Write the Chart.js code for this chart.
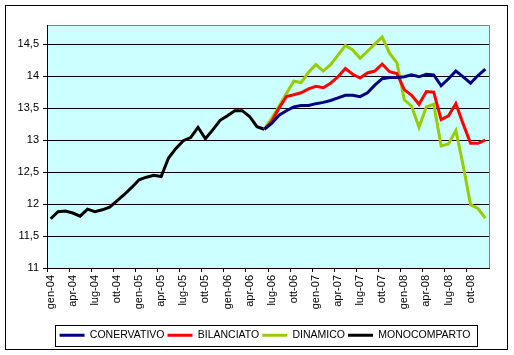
<!DOCTYPE html>
<html>
<head>
<meta charset="utf-8">
<script src="https://cdn.jsdelivr.net/npm/chart.js@4.4.1/dist/chart.umd.min.js"></script>
<style>
html,body{margin:0;padding:0;background:#fff;}
#wrap{width:514px;height:355px;position:relative;}
</style>
</head>
<body>
<div id="wrap"><canvas id="c" width="514" height="355"></canvas></div>
<script>
const months = ['gen','feb','mar','apr','mag','giu','lug','ago','set','ott','nov','dic'];
const years = ['04','05','06','07','08'];
const categories = [];
years.forEach(y => months.forEach(m => categories.push(m + '-' + y)));

const monocomparto = [11.77,11.88,11.89,11.86,11.81,11.92,11.88,11.91,11.95,12.05,
  12.15,12.26,12.38,12.42,12.45,12.43,12.72,12.87,12.99,13.04,
  13.20,13.02,13.16,13.31,13.38,13.46,13.46,13.37,13.21,13.17,
  null,null,null,null,null,null,null,null,null,null,
  null,null,null,null,null,null,null,null,null,null,
  null,null,null,null,null,null,null,null,null,null];

const conservativo = [null,null,null,null,null,null,null,null,null,null,
  null,null,null,null,null,null,null,null,null,null,
  null,null,null,null,null,null,null,null,null,13.17,
  13.26,13.39,13.46,13.52,13.54,13.54,13.57,13.59,13.62,13.66,
  13.70,13.70,13.68,13.74,13.86,13.96,13.98,13.98,13.99,14.02,
  13.99,14.03,14.02,13.85,13.96,14.08,13.99,13.89,14.01,14.11];

const bilanciato = [null,null,null,null,null,null,null,null,null,null,
  null,null,null,null,null,null,null,null,null,null,
  null,null,null,null,null,null,null,null,null,13.17,
  13.29,13.50,13.68,13.71,13.74,13.80,13.84,13.82,13.89,13.99,
  14.12,14.03,13.97,14.05,14.08,14.19,14.07,14.04,13.79,13.70,
  13.56,13.76,13.75,13.32,13.38,13.57,13.25,12.95,12.95,13.00];

const dinamico = [null,null,null,null,null,null,null,null,null,null,
  null,null,null,null,null,null,null,null,null,null,
  null,null,null,null,null,null,null,null,null,13.17,
  13.34,13.53,13.73,13.92,13.90,14.06,14.18,14.08,14.18,14.33,
  14.48,14.41,14.28,14.39,14.50,14.61,14.36,14.21,13.63,13.53,
  13.20,13.52,13.56,12.91,12.94,13.15,12.60,11.99,11.93,11.78];

const seriesNames = ['CONERVATIVO','BILANCIATO','DINAMICO','MONOCOMPARTO'];
const seriesColors = ['#000080','#FF0000','#99CC00','#000000'];
const yTicks = [11,11.5,12,12.5,13,13.5,14,14.5];

const FONT = {family:'"Liberation Sans", Arial, sans-serif', size:11};
const LEGEND_FONT = {family:'"Liberation Sans", Arial, sans-serif', size:10.5};
const LEGEND_SHIFT = 18;

const framePlugin = {
  id:'frame',
  afterLayout(chart){
    const lg = chart.legend;
    if(!lg) return;
    lg.left += LEGEND_SHIFT; lg.right += LEGEND_SHIFT;
    (lg.legendHitBoxes||[]).forEach(h=>{ h.left += LEGEND_SHIFT; });
  },
  beforeDraw(chart){
    const ctx = chart.ctx, a = chart.chartArea;
    ctx.save();
    ctx.fillStyle = '#fff';
    ctx.fillRect(0,0,chart.width,chart.height);
    ctx.strokeStyle = '#000';
    ctx.lineWidth = 1;
    ctx.strokeRect(5.5,5.5,502,344);
    ctx.fillStyle = '#CCFFFF';
    ctx.fillRect(a.left,a.top,a.right-a.left,a.bottom-a.top);
    ctx.strokeStyle = '#808080';
    ctx.beginPath();
    ctx.moveTo(a.left, a.top+0.5);
    ctx.lineTo(a.right+0.5, a.top+0.5);
    ctx.lineTo(a.right+0.5, a.bottom);
    ctx.stroke();
    ctx.restore();
  },
  afterDraw(chart){
    const lg = chart.legend;
    if(!lg || !lg.legendHitBoxes || !lg.legendHitBoxes.length) return;
    let l=1e9,r=-1e9,t=1e9,b=-1e9;
    lg.legendHitBoxes.forEach(h=>{
      l=Math.min(l,h.left); r=Math.max(r,h.left+h.width);
      t=Math.min(t,h.top); b=Math.max(b,h.top+h.height);
    });
    const ctx = chart.ctx;
    ctx.save();
    ctx.strokeStyle='#000'; ctx.lineWidth=1;
    ctx.strokeRect(Math.round(l-5)+0.5, Math.round(t-5)+0.5, Math.round(r-l+11), Math.round(b-t+10));
    ctx.restore();
  }
};

const mk = (i, data) => ({
  label: seriesNames[i], data, borderColor: seriesColors[i], backgroundColor: seriesColors[i],
  borderWidth: 3, pointRadius: 0, pointHoverRadius: 0, tension: 0, fill: false, spanGaps: false
});

new Chart(document.getElementById('c'), {
  type:'line',
  data:{
    labels: categories,
    datasets:[ mk(0, conservativo), mk(1, bilanciato), mk(2, dinamico), mk(3, monocomparto) ]
  },
  options:{
    responsive:false, animation:false, devicePixelRatio:1,
    layout:{padding:{left:5,top:25,right:25,bottom:4.5}},
    plugins:{
      tooltip:{enabled:false},
      legend:{
        position:'bottom',
        labels:{
          font:LEGEND_FONT, color:'#000', boxWidth:25, boxHeight:3, padding:3,
          generateLabels(chart){
            return chart.data.datasets.map((d,i)=>({
              text:d.label, fillStyle:d.borderColor, strokeStyle:d.borderColor,
              lineWidth:0, hidden:false, datasetIndex:i, fontColor:'#000'
            }));
          }
        }
      }
    },
    scales:{
      x:{
        type:'category', offset:true,
        grid:{
          offset:true, drawOnChartArea:false, drawTicks:true, tickLength:4,
          color:(ctx)=> (ctx.index % 3 === 0 ? '#000' : 'rgba(0,0,0,0)')
        },
        border:{display:true,color:'#000',width:1},
        ticks:{
          autoSkip:false, maxRotation:90, minRotation:90, padding:3,
          font:FONT, color:'#000',
          callback:(v,idx)=> idx % 3 === 0 ? categories[idx] : ''
        },
        afterFit:(s)=>{ s.height = 59; }
      },
      y:{
        min:11, max:14.8,
        afterBuildTicks:(s)=>{ s.ticks = yTicks.map(v=>({value:v})); },
        grid:{color:'#000', lineWidth:1, drawTicks:true, tickLength:4},
        border:{display:true,color:'#000',width:1},
        ticks:{
          font:FONT, color:'#000', padding:4,
          callback:(v)=> String(v).replace('.', ',')
        },
        afterFit:(s)=>{ s.width = 42; }
      }
    }
  },
  plugins:[framePlugin]
});
</script>
</body>
</html>
